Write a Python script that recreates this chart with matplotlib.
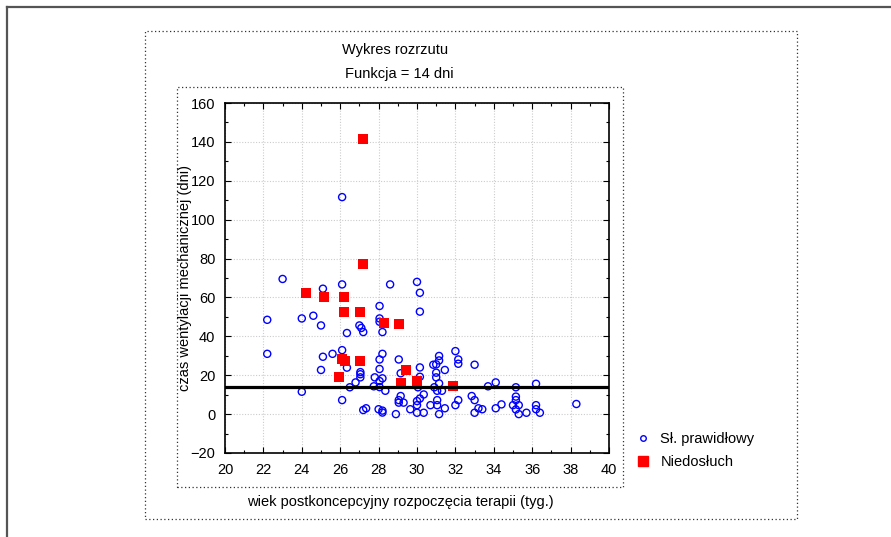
import numpy as np
import matplotlib
matplotlib.use("Agg")
import matplotlib.pyplot as plt
from matplotlib.patches import Rectangle
from matplotlib.lines import Line2D
from matplotlib.ticker import MultipleLocator

plt.rcParams['font.family'] = ['Liberation Sans', 'DejaVu Sans']

# --- data ---
normal_x = [22.2, 22.2, 23.0, 24.0, 24.0, 24.6, 25.0, 25.0, 25.1, 25.1, 25.6,
            26.1, 26.1, 26.1, 26.1, 26.35, 26.35, 26.5, 26.8, 27.0, 27.1, 27.2,
            27.05, 27.05, 27.05, 27.2, 27.35, 27.8, 27.75, 28.05, 28.05, 28.05,
            28.2, 28.2, 28.05, 28.05, 28.2, 28.05, 28.05, 28.35, 28.0, 28.2,
            28.2, 28.6, 28.9, 29.05, 29.15, 29.05, 29.15, 29.05, 29.3, 29.65,
            30.0, 30.15, 30.15, 30.15, 30.15, 30.05, 30.35, 30.15, 30.0, 30.0,
            30.0, 30.35, 30.7, 30.85, 31.0, 31.15, 31.15, 31.0, 31.0, 31.15,
            30.9, 31.05, 31.3, 31.45, 31.05, 31.05, 31.15, 31.45, 32.0, 32.15,
            32.15, 32.0, 32.15, 32.85, 33.0, 33.0, 33.0, 33.2, 33.4, 33.7,
            34.1, 34.1, 34.4, 35.0, 35.15, 35.15, 35.15, 35.3, 35.15, 35.3,
            35.7, 36.2, 36.2, 36.2, 36.4, 38.3]
normal_y = [48.5, 31.0, 69.5, 49.2, 11.5, 50.6, 45.6, 22.7, 64.5, 29.5, 31.0,
            111.6, 66.7, 32.9, 7.2, 41.7, 23.9, 13.8, 16.3, 45.6, 44.3, 42.2,
            21.6, 20.5, 18.9, 2.1, 3.0, 18.9, 14.3, 55.6, 49.2, 47.5,
            42.2, 31.0, 28.1, 23.2, 18.4, 17.0, 13.9, 12.0, 2.5, 1.8,
            0.8, 66.7, 0.0, 28.1, 21.0, 7.2, 9.3, 5.9, 5.9, 2.5,
            68.0, 62.4, 52.7, 24.0, 19.2, 13.8, 10.1, 8.0, 6.7, 4.6,
            0.7, 0.7, 4.6, 25.4, 25.6, 29.9, 27.6, 21.3, 18.9, 15.8,
            13.8, 12.0, 12.0, 22.7, 7.2, 4.6, 0.0, 3.0, 32.4, 28.1,
            25.9, 4.6, 7.2, 9.3, 25.4, 7.2, 0.7, 3.0, 2.5, 14.3,
            16.3, 3.0, 5.0, 4.6, 13.8, 9.0, 7.2, 4.6, 2.4, 0.0,
            0.7, 15.6, 4.6, 2.5, 0.7, 5.2]

hearing_x = [24.2, 25.15, 26.2, 26.2, 27.05, 27.2, 27.2, 28.3, 29.05,
             26.1, 26.25, 27.05, 25.95, 29.45, 29.15, 30.0, 31.9]
hearing_y = [62.5, 60.0, 60.0, 52.5, 52.5, 141.5, 77.2, 47.0, 46.3,
             28.1, 27.4, 27.4, 19.1, 22.7, 15.8, 17.0, 14.4]

threshold = 14
labels = ["Sł. prawidłowy", "Niedosłuch"]

W, H = 891, 537


def fx(px):
    return px / W


def fy(py):
    return 1 - py / H


fig = plt.figure(figsize=(W / 100, H / 100), dpi=100)

# frames around the chart
fig.add_artist(Line2D([fx(7), 1.0], [fy(7), fy(7)], color='#555555', lw=1.6))
fig.add_artist(Line2D([fx(7), fx(7)], [fy(7), 0.0], color='#555555', lw=1.6))
fig.add_artist(Rectangle((fx(145), fy(519)), fx(797) - fx(145), fy(31) - fy(519),
                         fill=False, ls=(0, (1, 2)), lw=0.9, color='#333333'))
fig.add_artist(Rectangle((fx(177), fy(487)), fx(623) - fx(177), fy(87) - fy(487),
                         fill=False, ls=(0, (1, 2)), lw=0.9, color='#333333'))

ax = fig.add_axes([fx(225), fy(453), fx(609) - fx(225), fy(103) - fy(453)])

ax.scatter(normal_x, normal_y, s=26, facecolors='none', edgecolors='#0000ff',
           linewidths=1.0, zorder=3, label=labels[0])
ax.scatter(hearing_x, hearing_y, s=58, marker='s', color='#ff0000',
           linewidths=0, zorder=4, label=labels[1])
ax.axhline(threshold, color='black', lw=2.3, zorder=5)

ax.set_xlim(20, 40)
ax.set_ylim(-20, 160)
ax.xaxis.set_major_locator(MultipleLocator(2))
ax.xaxis.set_minor_locator(MultipleLocator(1))
ax.yaxis.set_major_locator(MultipleLocator(20))
ax.yaxis.set_minor_locator(MultipleLocator(10))
ax.tick_params(which='both', direction='in', top=True, right=True,
               labelsize=10.5, width=0.8)
ax.tick_params(which='major', length=4, pad=7)
ax.tick_params(which='minor', length=2.5)
ax.grid(True, which='major', color='#cccccc', ls=(0, (1, 1.5)), lw=0.8)
for s in ax.spines.values():
    s.set_linewidth(1.2)

fig.text(fx(395), fy(50), "Wykres rozrzutu", ha='center', va='center', fontsize=10.5)
fig.text(fx(399), fy(74), "Funkcja = 14 dni", ha='center', va='center', fontsize=10.5)
fig.text(fx(400), fy(502), "wiek postkoncepcyjny rozpoczęcia terapii (tyg.)",
         ha='center', va='center', fontsize=10.5)
fig.text(fx(185), fy(278), "czas wentylacji mechanicznej (dni)",
         ha='center', va='center', rotation=90, fontsize=10.5)

handles = [Line2D([], [], ls='none', marker='o', mfc='none', mec='#0000ff',
                  mew=1.0, ms=4),
           Line2D([], [], ls='none', marker='s', color='#ff0000', ms=7)]
fig.legend(handles, labels, loc='upper left',
           bbox_to_anchor=(fx(621), fy(419)), frameon=False, fontsize=10.5,
           handletextpad=0.6, labelspacing=0.6, handlelength=1.2)

fig.savefig("out.png", dpi=100)
